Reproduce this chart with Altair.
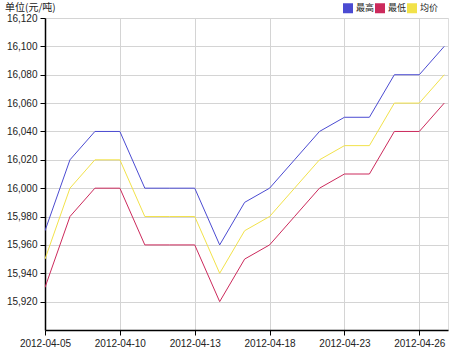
import json
import altair as alt
import pandas as pd

dates = ["2012-04-05", "2012-04-06", "2012-04-09", "2012-04-10", "2012-04-11",
         "2012-04-12", "2012-04-13", "2012-04-16", "2012-04-17", "2012-04-18",
         "2012-04-19", "2012-04-20", "2012-04-23", "2012-04-24", "2012-04-25",
         "2012-04-26", "2012-04-27"]
high = [15970, 16020, 16040, 16040, 16000, 16000, 16000, 15960, 15990, 16000,
        16020, 16040, 16050, 16050, 16080, 16080, 16100]
low = [15930, 15980, 16000, 16000, 15960, 15960, 15960, 15920, 15950, 15960,
       15980, 16000, 16010, 16010, 16040, 16040, 16060]
avg = [15950, 16000, 16020, 16020, 15980, 15980, 15980, 15940, 15970, 15980,
       16000, 16020, 16030, 16030, 16060, 16060, 16080]
series_names = ["最高", "最低", "均价"]
series_colors = ["#4b4bd2", "#cc2a5c", "#f2e24a"]
y_ticks = [15920, 15940, 15960, 15980, 16000, 16020, 16040, 16060, 16080, 16100, 16120]
x_ticks = [0, 3, 6, 9, 12, 15]

rows = []
for name, vals in zip(series_names, [high, low, avg]):
    for i, (d, v) in enumerate(zip(dates, vals)):
        rows.append({"idx": i, "date": d, "series": name, "value": v})
df = pd.DataFrame(rows)

label_expr = json.dumps(dates) + "[datum.value]"

font = "Liberation Sans"

lines = alt.Chart(df).mark_line(strokeWidth=1, clip=True).encode(
    x=alt.X("idx:Q",
            scale=alt.Scale(domain=[0, 16.15], nice=False, zero=False),
            axis=alt.Axis(values=x_ticks, labelExpr=label_expr, title=None,
                          grid=True, gridColor="#d4d4d4", gridWidth=1,
                          domainColor="#000000", domainWidth=1.5,
                          tickColor="#000000", tickSize=5, tickWidth=1,
                          labelFont=font, labelFontSize=10, labelColor="#222222",
                          labelPadding=3, labelFlush=False)),
    y=alt.Y("value:Q",
            scale=alt.Scale(domain=[15900, 16120], nice=False, zero=False),
            axis=alt.Axis(values=y_ticks, format=",d", title=None,
                          grid=True, gridColor="#d4d4d4", gridWidth=1,
                          domainColor="#000000", domainWidth=1.5,
                          tickColor="#000000", tickSize=5, tickWidth=1,
                          labelFont=font, labelFontSize=10, labelColor="#222222",
                          labelPadding=3)),
    color=alt.Color("series:N",
                    scale=alt.Scale(domain=series_names, range=series_colors),
                    sort=series_names,
                    legend=alt.Legend(title=None, orient="none", direction="horizontal",
                                      legendX=298, legendY=-15,
                                      symbolType="square", symbolSize=25,
                                      symbolStrokeWidth=5, symbolOpacity=1,
                                      labelFont="Noto Sans CJK SC", labelFontSize=9,
                                      labelColor="#222222", labelOffset=3,
                                      columnPadding=-8, padding=0)),
    detail="series:N",
)

title_df = pd.DataFrame({"t": ["单位(元/吨)"]})
title = alt.Chart(title_df).mark_text(
    align="left", baseline="middle", font="Noto Sans CJK SC", fontSize=10, color="#222222"
).encode(x=alt.value(-40), y=alt.value(-10), text="t:N")

chart = alt.layer(lines, title).properties(
    width=403, height=312,
    autosize=alt.AutoSizeParams(type="none"),
    padding={"left": 45, "top": 18, "right": 10, "bottom": 21},
).configure_view(stroke=None).configure(background="white")

chart.save("out.html", embed_options={"renderer": "svg", "actions": False})
